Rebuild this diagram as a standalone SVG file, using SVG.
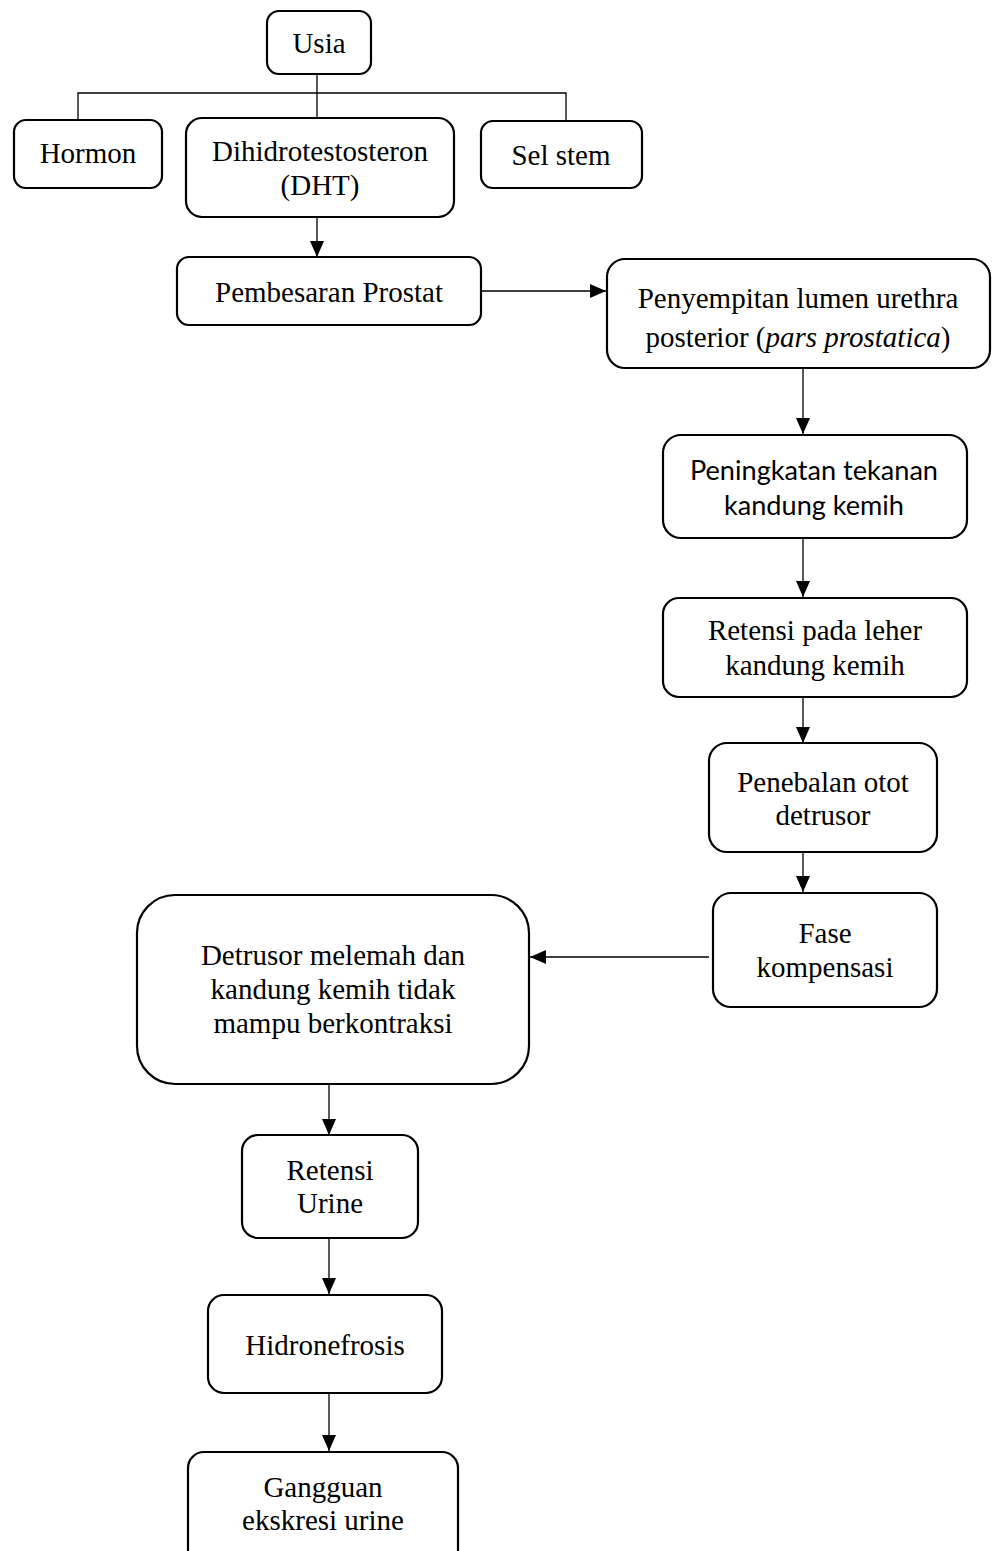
<svg xmlns="http://www.w3.org/2000/svg" width="996" height="1551" viewBox="0 0 996 1551">
<style>
.box{fill:#fff;stroke:#000;stroke-width:2.2}
.t{font-family:"Liberation Serif","Times New Roman",serif;font-size:29px;fill:#000;text-anchor:middle}
.s{font-family:Lato,"Liberation Sans",sans-serif;font-size:26px;fill:#000;text-anchor:middle}
.c{fill:none;stroke:#000;stroke-width:1.3}
</style>
<defs>
<marker id="ah" markerUnits="userSpaceOnUse" viewBox="0 0 16 14" refX="16" refY="7" markerWidth="16" markerHeight="14" orient="auto">
<path d="M0,0 L16,7 L0,14 z" fill="#000"/>
</marker>
</defs>
<rect width="996" height="1551" fill="#fff"/>
<g id="connectors">
<path class="c" d="M317,74 V118"/>
<path class="c" d="M78,120 V93 H566 V121"/>
<path class="c" d="M317,217 V257" marker-end="url(#ah)"/>
<path class="c" d="M481,291 H606" marker-end="url(#ah)"/>
<path class="c" d="M803,368 V434" marker-end="url(#ah)"/>
<path class="c" d="M803,538 V597" marker-end="url(#ah)"/>
<path class="c" d="M803,697 V743" marker-end="url(#ah)"/>
<path class="c" d="M803,852 V892" marker-end="url(#ah)"/>
<path class="c" d="M709,957 H530" marker-end="url(#ah)"/>
<path class="c" d="M329,1084 V1135" marker-end="url(#ah)"/>
<path class="c" d="M329,1238 V1294" marker-end="url(#ah)"/>
<path class="c" d="M329,1393 V1451" marker-end="url(#ah)"/>
</g>
<g id="usia"><rect class="box" x="267" y="11" width="104" height="63" rx="12"/><text class="t" x="319" y="53">Usia</text></g>
<g id="hormon"><rect class="box" x="14" y="120" width="148" height="68" rx="12"/><text class="t" x="88" y="163">Hormon</text></g>
<g id="dht"><rect class="box" x="186" y="118" width="268" height="99" rx="16"/><text class="t" x="320" y="161">Dihidrotestosteron</text><text class="t" x="320" y="195">(DHT)</text></g>
<g id="selstem"><rect class="box" x="481" y="121" width="161" height="67" rx="12"/><text class="t" x="561" y="165">Sel stem</text></g>
<g id="pembesaran"><rect class="box" x="177" y="257" width="304" height="68" rx="12"/><text class="t" x="329" y="302">Pembesaran Prostat</text></g>
<g id="penyempitan"><rect class="box" x="607" y="259" width="383" height="109" rx="18"/><text class="t" x="798" y="308">Penyempitan lumen urethra</text><text class="t" x="798" y="347">posterior (<tspan font-style="italic">pars prostatica</tspan>)</text></g>
<g id="peningkatan"><rect class="box" x="663" y="435" width="304" height="103" rx="18"/><text class="s" x="814" y="480" textLength="248" lengthAdjust="spacingAndGlyphs">Peningkatan tekanan</text><text class="s" x="814" y="515" textLength="180" lengthAdjust="spacingAndGlyphs">kandung kemih</text></g>
<g id="retensi-leher"><rect class="box" x="663" y="598" width="304" height="99" rx="16"/><text class="t" x="815" y="640">Retensi pada leher</text><text class="t" x="815" y="675">kandung kemih</text></g>
<g id="penebalan"><rect class="box" x="709" y="743" width="228" height="109" rx="18"/><text class="t" x="823" y="792">Penebalan otot</text><text class="t" x="823" y="825">detrusor</text></g>
<g id="fase"><rect class="box" x="713" y="893" width="224" height="114" rx="18"/><text class="t" x="825" y="943">Fase</text><text class="t" x="825" y="977">kompensasi</text></g>
<g id="detrusor"><rect class="box" x="137" y="895" width="392" height="189" rx="38"/><text class="t" x="333" y="965">Detrusor melemah dan</text><text class="t" x="333" y="999">kandung kemih tidak</text><text class="t" x="333" y="1033">mampu berkontraksi</text></g>
<g id="retensi-urine"><rect class="box" x="242" y="1135" width="176" height="103" rx="16"/><text class="t" x="330" y="1180">Retensi</text><text class="t" x="330" y="1213">Urine</text></g>
<g id="hidronefrosis"><rect class="box" x="208" y="1295" width="234" height="98" rx="16"/><text class="t" x="325" y="1355">Hidronefrosis</text></g>
<g id="gangguan"><rect class="box" x="188" y="1452" width="270" height="120" rx="16"/><text class="t" x="323" y="1497">Gangguan</text><text class="t" x="323" y="1530">ekskresi urine</text></g>
</svg>
